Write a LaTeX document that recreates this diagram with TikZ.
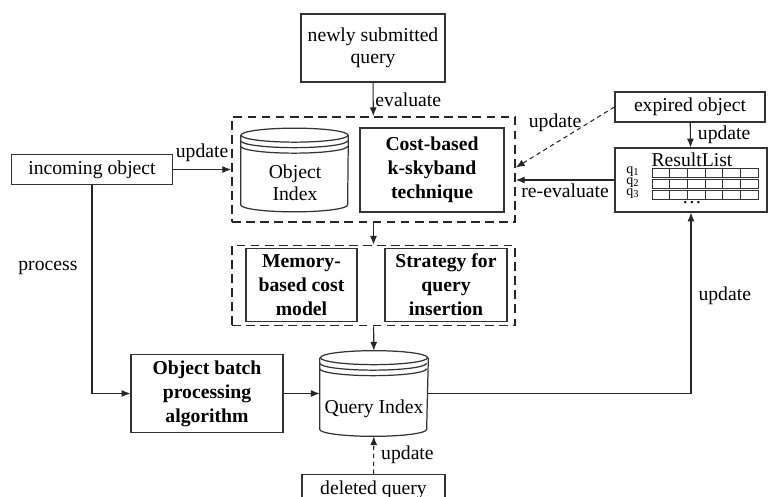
\documentclass[tikz,border=0pt]{standalone}
\usepackage{fontspec}
\setmainfont{Liberation Serif}
\usepackage{tikz}
\usetikzlibrary{arrows.meta, positioning, calc}
\newcommand{\dgreg}{\fontsize{11.2}{12.5}\selectfont}
\newcommand{\dgbold}{\fontsize{11.2}{13.6}\selectfont\bfseries}
\tikzset{
  box/.style={rectangle, draw=black!80, line width=0.7pt, text centered, align=center, font=\dgreg},
  boldbox/.style={box, font=\dgbold},
  groupbox/.style={rectangle, draw=black!85, line width=1pt, dash pattern=on 5pt off 3pt},
  dbnode/.style={rectangle, inner sep=0pt},
  dbline/.style={draw=black!80, line width=0.7pt},
  arrow/.style={line width=0.6pt, draw=black!85, -{Latex[length=5pt,width=4pt]}},
  dashedarrow/.style={arrow, dash pattern=on 2.5pt off 2pt},
  lbl/.style={font=\dgreg, inner sep=1pt},
  qlbl/.style={font=\fontsize{8}{8}\selectfont, inner sep=0pt, text height=3.6pt, text depth=1.6pt},
  gridline/.style={draw=black!80, line width=0.5pt}
}

\begin{document}
\begin{tikzpicture}[x=0.02cm, y=-0.02cm]
\useasboundingbox (0,0) rectangle (768,497);
% boxes
\node[box, minimum width=2.88cm, minimum height=1.36cm] (newquery) at (373,48) {newly submitted\\query};
\node[groupbox, minimum width=5.66cm, minimum height=2.1cm] (grpupper) at (373.5,169.5) {};
\node[dbnode, minimum width=2.14cm, minimum height=1.66cm] (objindex) at (294.5,170) {};
\node[lbl, align=center] (objtext) at (295,183) {Object\\Index};
\node[boldbox, minimum width=2.88cm, minimum height=1.68cm] (skyband) at (432,170) {Cost-based\\k-skyband\\technique};
\node[groupbox, minimum width=5.66cm, minimum height=1.6cm] (grplower) at (373.5,285.5) {};
\node[boldbox, minimum width=2.22cm, minimum height=1.32cm] (memcost) at (301.5,285) {Memory-\\based cost\\model};
\node[boldbox, minimum width=2.44cm, minimum height=1.32cm] (strategy) at (446,285) {Strategy for\\query\\insertion};
\node[dbnode, minimum width=2.16cm, minimum height=1.7cm] (queryindex) at (374,393.5) {};
\node[lbl] (querytext) at (374,409) {Query Index};
\node[boldbox, minimum width=3.04cm, minimum height=1.38cm] (batch) at (207,393.5) {Object batch\\processing\\algorithm};
\node[box, minimum width=3.22cm, minimum height=0.58cm] (incoming) at (92,169.5) {incoming object};
\node[box, minimum width=2.86cm, minimum height=0.62cm] (deleted) at (373.5,490) {deleted query};
\node[box, minimum width=3cm, minimum height=0.6cm] (expired) at (690,107) {expired object};
\node[box, minimum width=3.04cm, minimum height=1.28cm] (resultlist) at (691,180) {};
\node[lbl] (restitle) at (692,160) {ResultList};
\foreach \q in {1,2,3}
  \node[qlbl] (qrow\q) at (633,{161+\q*11}) {q\textsubscript{\q}};
\node[lbl] (resdots) at (692,203) {\dots};

% cylinders
\foreach \db in {objindex, queryindex} {
  \draw[dbline] ([yshift=-0.14cm]\db.north west) -- ([yshift=0.14cm]\db.south west)
    arc[start angle=180, end angle=360, x radius=1.07cm, y radius=0.14cm]
    -- ([yshift=-0.14cm]\db.north east);
  \draw[dbline] ([yshift=-0.14cm]\db.north) ellipse[x radius=1.07cm, y radius=0.14cm];
  \draw[dbline] ([yshift=-0.25cm]\db.north west) arc[start angle=180, end angle=360, x radius=1.07cm, y radius=0.14cm];
  \draw[dbline] ([yshift=-0.36cm]\db.north west) arc[start angle=180, end angle=360, x radius=1.07cm, y radius=0.14cm];
}

% result grid
\foreach \r in {0,1,2} {
  \draw[gridline] (652,{168+\r*11}) rectangle (758,{177+\r*11});
  \foreach \c in {1,...,5}
    \draw[gridline] ({652+\c*17.67},{168+\r*11}) -- ({652+\c*17.67},{177+\r*11});
}

% connectors
\draw[arrow] (newquery) -- node[midway, right, lbl] (evallbl) {evaluate} (grpupper);
\draw[arrow] (grpupper) -- (grplower);
\draw[arrow] (grplower) -- (queryindex);
\draw[arrow] (batch) -- (queryindex);
\draw[arrow] (incoming) -- node[midway, above=3pt, lbl] (inclbl) {update} (grpupper);
\draw[arrow] (incoming.south) |- node[pos=0.2, left=7pt, lbl] (proclbl) {process} (batch.west);
\draw[dashedarrow] (deleted) -- node[midway, right=3pt, lbl] (dellbl) {update} (queryindex);
\draw[arrow] (queryindex.east) -| node[pos=0.77, right=3pt, lbl] (reslbl) {update} (resultlist.south);
\draw[arrow] (expired) -- node[midway, right=3pt, lbl] (explbl) {update} (resultlist);
\draw[arrow] (resultlist.west) -- node[midway, below=1pt, lbl] (reevallbl) {re-evaluate} (resultlist.west -| grpupper.east);
\draw[dashedarrow] (expired.west) -- node[midway, above=2pt, xshift=-0.2cm, lbl] (expdlbl) {update} ([yshift=0.04cm]grpupper.east);
\end{tikzpicture}
\end{document}
